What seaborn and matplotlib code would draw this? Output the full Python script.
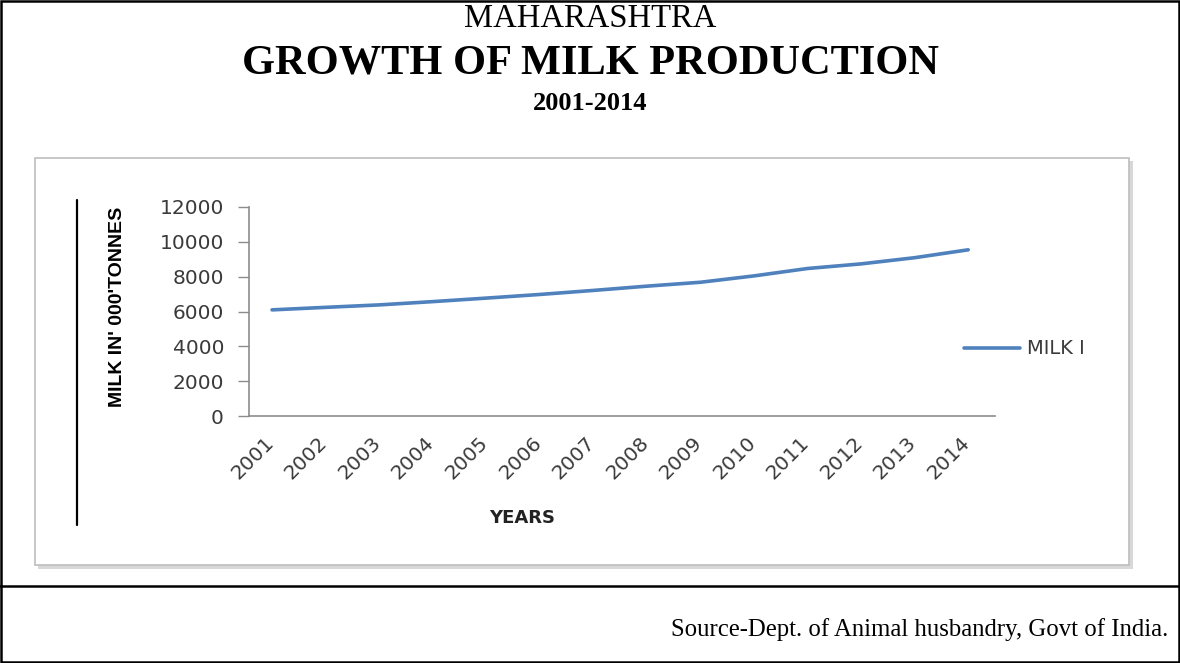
import matplotlib
matplotlib.use("Agg")
import matplotlib.pyplot as plt
from matplotlib.patches import FancyBboxPatch, Rectangle
from matplotlib.lines import Line2D
import matplotlib.transforms as mtransforms
import seaborn as sns
import pandas as pd

years = [2001, 2002, 2003, 2004, 2005, 2006, 2007, 2008, 2009, 2010, 2011, 2012, 2013, 2014]
milk = [6094, 6238, 6379, 6567, 6769, 6978, 7210, 7455, 7679, 8044, 8469, 8734, 9089, 9542]
y_ticks = [0, 2000, 4000, 6000, 8000, 10000, 12000]
series_name = "MILK I"

sns.set_theme(style="white")
plt.rcParams['font.family'] = ['DejaVu Sans']

W, H = 1180, 663
fig = plt.figure(figsize=(W / 100, H / 100), dpi=100)
fig.patch.set_facecolor("white")

def fx(px):
    return px / W

def fy(py):
    return 1 - py / H

# chart box with shadow
shadow = FancyBboxPatch((fx(38), fy(569)), fx(1133) - fx(38), fy(161) - fy(569),
                        boxstyle="square,pad=0", transform=fig.transFigure,
                        facecolor="#d8d8d8", edgecolor="none", zorder=0)
fig.patches.append(shadow)
box = FancyBboxPatch((fx(35), fy(565)), fx(1129) - fx(35), fy(158) - fy(565),
                     boxstyle="square,pad=0", transform=fig.transFigure,
                     facecolor="white", edgecolor="#bdbdbd", linewidth=1.2, zorder=0.5)
fig.patches.append(box)

# outer frame and separator
fig.add_artist(Rectangle((0.001, 0.002), 0.998, 0.996, transform=fig.transFigure,
                         fill=False, edgecolor="black", linewidth=1.8))
fig.add_artist(Line2D([0, 1], [fy(586), fy(586)], transform=fig.transFigure,
                      color="black", linewidth=1.8))
# stray vertical line at left of chart
fig.add_artist(Line2D([fx(77), fx(77)], [fy(200), fy(525)], transform=fig.transFigure,
                      color="black", linewidth=1.6))

ax = fig.add_axes([fx(249), fy(416), fx(995) - fx(249), fy(207) - fy(416)])
ax.set_zorder(3)
ax.set_facecolor("none")
df = pd.DataFrame({"Year": years, "Milk": milk})
sns.lineplot(data=df, x="Year", y="Milk", ax=ax, color="#4F81BD", linewidth=2.6,
             label=series_name, legend=False)

ax.set_xlim(2000.57, 2014.5)
ax.set_ylim(0, 12000)
ax.set_yticks(y_ticks)
ax.set_yticklabels([str(v) for v in y_ticks], fontsize=14.5, color="#3a3a3a")
ax.set_xticks(years)
ax.set_xticklabels([str(y) for y in years], fontsize=14.5, color="#3a3a3a",
                   rotation=45, ha="right", va="top", rotation_mode="anchor")
ax.tick_params(axis="x", length=0, pad=12)
ax.tick_params(axis="y", length=8, width=1, color="#8c8c8c", pad=10, left=True)
offset = mtransforms.ScaledTranslation(-8 / 100, 0, fig.dpi_scale_trans)
for lbl in ax.get_xticklabels():
    lbl.set_transform(lbl.get_transform() + offset)
for s in ["top", "right"]:
    ax.spines[s].set_visible(False)
for s in ["left", "bottom"]:
    ax.spines[s].set_color("#8c8c8c")
    ax.spines[s].set_linewidth(1.2)
ax.set_xlabel("")
ax.set_ylabel("")
ax.grid(False)

t1 = fig.text(fx(117), fy(307), "MILK IN' 000'TONNES", rotation=90, ha="center", va="center",
              fontsize=14, fontweight="bold", color="black",
              family=["Liberation Sans Narrow", "Liberation Sans", "DejaVu Sans"])
t1.set_zorder(4)
t2 = fig.text(fx(522), fy(518), "YEARS", ha="center", va="center", fontsize=13,
              fontweight="bold", color="#222222", family=["DejaVu Sans"])
t2.set_zorder(4)

# legend
handles, labels = ax.get_legend_handles_labels()
leg = fig.legend(handles, labels, loc="center left", bbox_to_anchor=(fx(946), fy(349)),
                 frameon=False, fontsize=14, handlelength=2.9, handletextpad=0.35,
                 labelcolor="#3a3a3a")
leg.set_zorder(4)

# titles
fig.text(0.5, fy(19), "MAHARASHTRA", ha="center", va="center", fontsize=23.5,
         family=["Liberation Serif"], color="black")
fig.text(0.5, fy(64), "GROWTH OF MILK PRODUCTION", ha="center", va="center", fontsize=30.5,
         fontweight="bold", family=["Liberation Serif"], color="black")
fig.text(0.5, fy(103), "2001-2014", ha="center", va="center", fontsize=19,
         fontweight="bold", family=["Liberation Serif"], color="black")
fig.text(fx(1168), fy(630), "Source-Dept. of Animal husbandry, Govt of India.",
         ha="right", va="center", fontsize=17.8, family=["Liberation Serif"], color="black")

fig.savefig("out.png", dpi=100, facecolor="white")
